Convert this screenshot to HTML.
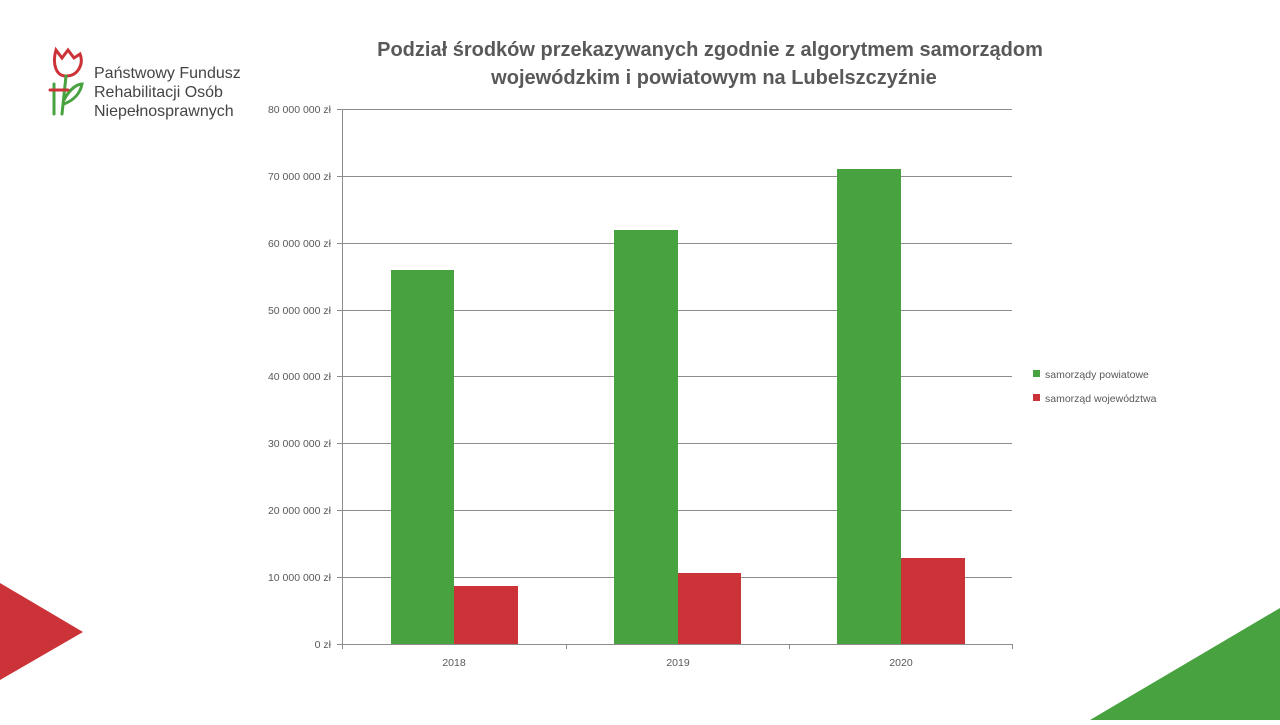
<!DOCTYPE html>
<html><head><meta charset="utf-8"><style>
body{margin:0;width:1280px;height:720px;background:#fff;overflow:hidden;font-family:"Liberation Sans",sans-serif}
</style></head><body>
<svg width="1280" height="720" xmlns="http://www.w3.org/2000/svg" font-family="Liberation Sans, sans-serif">
<polygon points="0,583 83,632 0,680" fill="#cc3338"/>
<polygon points="1090,720 1280,608 1280,720" fill="#47a23f"/>
<g fill="none" stroke-width="3" stroke-linecap="round">
<path d="M56,50 L62,58 L68,50 L74,58 L80,54 C84,64 78,76 66,76 C56,76 52,64 56,50 Z" stroke="#cc3338"/>
<path d="M66,76 L62,114" stroke="#47a23f"/>
<path d="M64,100 C70,88 78,84 82,84 C80,94 74,100 64,104" stroke="#47a23f"/>
<path d="M54,84 L54,114" stroke="#47a23f"/>
<path d="M50,90 L68,90" stroke="#cc3338"/>
</g>
<g font-size="16" fill="#444">
<text x="94" y="78">Państwowy Fundusz</text>
<text x="94" y="97">Rehabilitacji Osób</text>
<text x="94" y="116">Niepełnosprawnych</text>
</g>
<g font-size="20" font-weight="bold" fill="#595959" text-anchor="middle">
<text x="710" y="56">Podział środków przekazywanych zgodnie z algorytmem samorządom</text>
<text x="714" y="84">wojewódzkim i powiatowym na Lubelszczyźnie</text>
</g>
<g stroke="#8c8c8c" stroke-width="1">
<line x1="337" y1="109.5" x2="1012" y2="109.5"/>
<line x1="337" y1="176.5" x2="1012" y2="176.5"/>
<line x1="337" y1="243.5" x2="1012" y2="243.5"/>
<line x1="337" y1="310.5" x2="1012" y2="310.5"/>
<line x1="337" y1="376.5" x2="1012" y2="376.5"/>
<line x1="337" y1="443.5" x2="1012" y2="443.5"/>
<line x1="337" y1="510.5" x2="1012" y2="510.5"/>
<line x1="337" y1="577.5" x2="1012" y2="577.5"/>
<line x1="342.5" y1="109" x2="342.5" y2="644"/>
</g>
<g fill="#47a23f">
<rect x="391" y="270" width="63" height="374"/>
<rect x="614" y="230" width="64" height="414"/>
<rect x="837" y="169" width="64" height="475"/>
</g>
<g fill="#cc3338">
<rect x="454" y="586" width="64" height="58"/>
<rect x="678" y="573" width="63" height="71"/>
<rect x="901" y="558" width="64" height="86"/>
</g>
<g stroke="#8c8c8c">
<line x1="337" y1="644.5" x2="1012" y2="644.5"/>
<line x1="342.5" y1="644" x2="342.5" y2="649"/>
<line x1="566.5" y1="644" x2="566.5" y2="649"/>
<line x1="789.5" y1="644" x2="789.5" y2="649"/>
<line x1="1012.5" y1="644" x2="1012.5" y2="649"/>
</g>
<g font-size="10.5" fill="#595959" text-anchor="end">
<text x="331" y="113">80 000 000 zł</text>
<text x="331" y="180">70 000 000 zł</text>
<text x="331" y="247">60 000 000 zł</text>
<text x="331" y="314">50 000 000 zł</text>
<text x="331" y="380">40 000 000 zł</text>
<text x="331" y="447">30 000 000 zł</text>
<text x="331" y="514">20 000 000 zł</text>
<text x="331" y="581">10 000 000 zł</text>
<text x="331" y="648">0 zł</text>
</g>
<g font-size="10.5" fill="#595959" text-anchor="middle">
<text x="454" y="666">2018</text>
<text x="678" y="666">2019</text>
<text x="901" y="666">2020</text>
</g>
<rect x="1033" y="370" width="7" height="7" fill="#47a23f"/>
<rect x="1033" y="394" width="7" height="7" fill="#cc3338"/>
<g font-size="10.5" fill="#595959">
<text x="1045" y="378">samorządy powiatowe</text>
<text x="1045" y="402">samorząd województwa</text>
</g>
</svg>
</body></html>
